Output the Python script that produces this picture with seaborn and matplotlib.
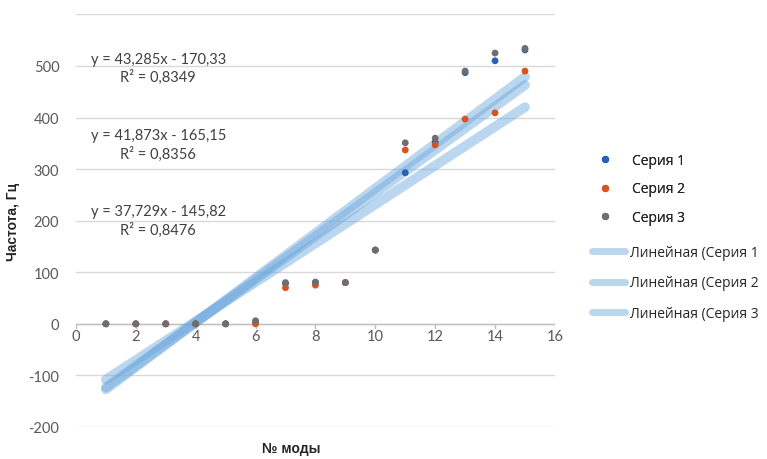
import numpy as np
import pandas as pd
import matplotlib
matplotlib.use("Agg")
import matplotlib.pyplot as plt
import seaborn as sns
from matplotlib.lines import Line2D

# ---- data ----
modes = [1, 2, 3, 4, 5, 6, 7, 8, 9, 10, 11, 12, 13, 14, 15]
series1 = [0, 0, 0, 0, 0, 3, 78, 80, 80, 143, 293, 352, 487, 510, 531]
series2 = [0, 0, 0, 0, 0, 0, 70, 75, 80, 143, 337, 347, 397, 409, 490]
series3 = [0, 0, 0, 0, 0, 6, 80, 81, 80, 143, 351, 360, 490, 525, 534]
series_names = ["Серия 1", "Серия 2", "Серия 3"]
trend_names = ["Линейная (Серия 1", "Линейная (Серия 2", "Линейная (Серия 3"]
# trend equations (slope, intercept) for series 1, 2, 3
slopes = [41.873, 37.729, 43.285]
intercepts = [-165.15, -145.82, -170.33]
eq_texts = ["y = 43,285x - 170,33\nR² = 0,8349",
            "y = 41,873x - 165,15\nR² = 0,8356",
            "y = 37,729x - 145,82\nR² = 0,8476"]
eq_pos_y = [496, 347, 200]
x_ticks = [0, 2, 4, 6, 8, 10, 12, 14, 16]
y_ticks = [-200, -100, 0, 100, 200, 300, 400, 500, 600]
y_labels = ["-200", "-100", "0", "100", "200", "300", "400", "500", ""]

colors = ["#2a5fb8", "#d9531e", "#6e6e6e"]
trend_color = "#6aa6dc"

sns.set_style("white")
plt.rcParams['font.family'] = ['Lato', 'DejaVu Sans']

fig = plt.figure(figsize=(7.67, 4.6), dpi=100)
ax = fig.add_axes([0.099, 0.0696, 0.6245, 0.897])

# trend lines
x_fit = np.array([modes[0], modes[-1]])
for s, b, nm in zip(slopes, intercepts, trend_names):
    tdf = pd.DataFrame({"x": x_fit, "y": s * x_fit + b})
    sns.lineplot(data=tdf, x="x", y="y", ax=ax, color=trend_color, lw=7,
                 alpha=0.45, solid_capstyle="round", legend=False, zorder=2)

# scatter points
df = pd.DataFrame({
    "mode": modes * 3,
    "freq": series1 + series2 + series3,
    "series": [series_names[0]] * 15 + [series_names[1]] * 15 + [series_names[2]] * 15,
})
sns.scatterplot(data=df, x="mode", y="freq", hue="series", palette=colors,
                s=24, edgecolor="none", ax=ax, legend=False, zorder=3)

ax.set_xlim(0, 16)
ax.set_ylim(-200, 600)
ax.set_yticks(y_ticks)
ax.set_yticklabels(y_labels)
ax.set_xticks(x_ticks)
ax.grid(axis="y", color="#d9d9d9", lw=1)
ax.set_axisbelow(True)
for sp in ["left", "right", "top", "bottom"]:
    ax.spines[sp].set_visible(False)
ax.axhline(0, color="#bfbfbf", lw=1, zorder=1)

# x tick labels along y=0 line
ax.tick_params(axis="x", length=0, labelbottom=False)
for xt in x_ticks:
    ax.plot([xt, xt], [0, -9], color="#bfbfbf", lw=1, zorder=1)
    ax.text(xt, -23, str(xt), ha="center", va="center", fontsize=10.5, color="#595959")
ax.tick_params(axis="y", length=0, labelsize=10.5, colors="#595959", pad=12)

ax.set_xlabel("№ моды", fontsize=10, fontweight="bold",
              family=["Liberation Sans", "DejaVu Sans"])
ax.set_ylabel("Частота, Гц", fontsize=10, fontweight="bold",
              family=["Liberation Sans", "DejaVu Sans"], labelpad=6)
ax.xaxis.set_label_coords(0.45, -0.033)

for t, yy in zip(eq_texts, eq_pos_y):
    ax.text(2.75, yy, t, ha="center", va="center", fontsize=10.5, color="#404040",
            linespacing=1.3)

# legends
lp = {"family": ["Open Sans", "DejaVu Sans"], "size": 10}
h1 = [Line2D([], [], marker="o", ls="none", color=c, markersize=4.2) for c in colors]
leg1 = fig.legend(h1, series_names, loc="upper left",
                  bbox_to_anchor=(0.76, 0.692), frameon=False,
                  handlelength=1.4, labelspacing=0.95, handletextpad=1.2, prop=lp)
h2 = [Line2D([], [], color=trend_color, lw=5, alpha=0.45, solid_capstyle="round") for _ in range(3)]
leg2 = fig.legend(h2, trend_names, loc="upper left",
                  bbox_to_anchor=(0.755, 0.492), frameon=False,
                  handlelength=2.4, labelspacing=1.1, handletextpad=0.35, prop=lp)
fig.add_artist(leg1)

fig.savefig("out.png", dpi=100, facecolor="white")
